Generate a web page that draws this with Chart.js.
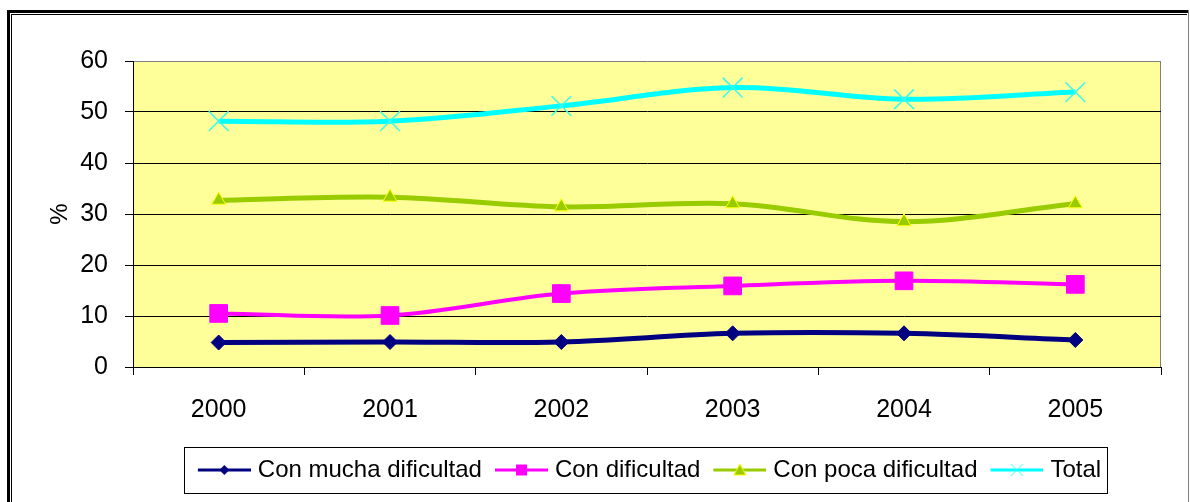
<!DOCTYPE html>
<html>
<head>
<meta charset="utf-8">
<title>Dificultad</title>
<script src="https://cdn.jsdelivr.net/npm/chart.js"></script>
<style>
    body { margin: 0; background: #fff; }
    canvas { display: block; }
</style>
</head>
<body>
<canvas id="lineChart" width="1190" height="502"></canvas>
<script>
    // Data
    const years = ['2000', '2001', '2002', '2003', '2004', '2005'];
    const muchaDificultad = [4.8, 4.9, 4.9, 6.6, 6.6, 5.3];
    const conDificultad = [10.5, 10.1, 14.4, 15.9, 16.9, 16.2];
    const pocaDificultad = [32.7, 33.3, 31.4, 32.0, 28.5, 32.0];
    const total = [48.2, 48.2, 51.2, 54.8, 52.5, 53.9];
    const seriesNames = ['Con mucha dificultad', 'Con dificultad', 'Con poca dificultad', 'Total'];
    const yTicks = [0, 10, 20, 30, 40, 50, 60];

    const FONT = '"Liberation Sans", Arial, sans-serif';

    // Small line + marker sample for the legend
    function makeIcon(color, marker, fill, border) {
        const c = document.createElement('canvas');
        c.width = 63;
        c.height = 24;
        const g = c.getContext('2d');
        g.strokeStyle = color;
        g.lineWidth = 3;
        g.beginPath();
        g.moveTo(10, 12);
        g.lineTo(63, 12);
        g.stroke();
        const x = 36.5, y = 12;
        g.fillStyle = fill;
        g.strokeStyle = border;
        g.lineWidth = 1;
        g.beginPath();
        if (marker === 'diamond') {
            g.moveTo(x, y - 5); g.lineTo(x + 5, y); g.lineTo(x, y + 5); g.lineTo(x - 5, y);
            g.closePath(); g.fill();
        } else if (marker === 'square') {
            g.rect(x - 5.5, y - 5.5, 11, 11); g.fill();
        } else if (marker === 'triangle') {
            g.moveTo(x, y - 6); g.lineTo(x + 6, y + 5); g.lineTo(x - 6, y + 5);
            g.closePath(); g.fill(); g.stroke();
        } else {
            g.moveTo(x - 6, y - 6); g.lineTo(x + 6, y + 6);
            g.moveTo(x + 6, y - 6); g.lineTo(x - 6, y + 6);
            g.stroke();
        }
        return c;
    }

    const legendIcons = [
        makeIcon('#000080', 'diamond', '#000080', '#000080'),
        makeIcon('#FF00FF', 'square', '#FF00FF', '#FF00FF'),
        makeIcon('#99CC00', 'triangle', '#99CC00', '#FFFF00'),
        makeIcon('#00FFFF', 'cross', '#00FFFF', '#33FFEE')
    ];

    // Frame, plot background and legend box
    const framePlugin = {
        id: 'frame',
        beforeDraw(chart) {
            const ctx = chart.ctx;
            const a = chart.chartArea;
            ctx.save();
            ctx.fillStyle = '#fff';
            ctx.fillRect(0, 0, chart.width, chart.height);
            ctx.fillStyle = '#000';
            ctx.fillRect(7, 10, chart.width - 9, 3);
            ctx.fillRect(7, 10, 3, chart.height);
            ctx.fillRect(11, 14, 1, chart.height);
            ctx.fillRect(11, 14, chart.width - 14, 1);
            ctx.fillStyle = '#808080';
            ctx.fillRect(chart.width - 2, 10, 1, chart.height);
            ctx.fillStyle = '#FFFF99';
            ctx.fillRect(a.left, a.top, a.right - a.left, a.bottom - a.top);
            ctx.fillStyle = '#808080';
            ctx.fillRect(a.right - 1, a.top, 1, a.bottom - a.top);
            ctx.restore();
        },
        afterDraw(chart) {
            const boxes = chart.legend.legendHitBoxes;
            if (!boxes || !boxes.length) return;
            const first = boxes[0];
            const last = boxes[boxes.length - 1];
            const cy = first.top + first.height / 2;
            const ctx = chart.ctx;
            ctx.save();
            ctx.strokeStyle = '#000';
            ctx.lineWidth = 1;
            const left = Math.round(first.left - 9) + 0.5;
            const right = Math.round(last.left + last.width + 6) + 0.5;
            ctx.strokeRect(left, Math.round(cy - 23) + 0.5, right - left, 46);
            ctx.restore();
        }
    };

    const ctx = document.getElementById('lineChart').getContext('2d');
    new Chart(ctx, {
        type: 'line',
        data: {
            labels: years,
            datasets: [
                {
                    label: seriesNames[0],
                    data: muchaDificultad,
                    borderColor: '#000080',
                    backgroundColor: '#000080',
                    borderWidth: 5,
                    pointStyle: 'rectRot',
                    pointRadius: 7.5,
                    pointBorderWidth: 1,
                    pointBackgroundColor: '#000080',
                    pointBorderColor: '#000080'
                },
                {
                    label: seriesNames[1],
                    data: conDificultad,
                    borderColor: '#FF00FF',
                    backgroundColor: '#FF00FF',
                    borderWidth: 4,
                    pointStyle: 'rect',
                    pointRadius: 12.5,
                    pointBorderWidth: 1,
                    pointBackgroundColor: '#FF00FF',
                    pointBorderColor: '#FF00FF'
                },
                {
                    label: seriesNames[2],
                    data: pocaDificultad,
                    borderColor: '#99CC00',
                    backgroundColor: '#99CC00',
                    borderWidth: 5,
                    pointStyle: 'triangle',
                    pointRadius: 8,
                    pointBorderWidth: 1,
                    pointBackgroundColor: '#99CC00',
                    pointBorderColor: '#FFFF00'
                },
                {
                    label: seriesNames[3],
                    data: total,
                    borderColor: '#00FFFF',
                    backgroundColor: '#00FFFF',
                    borderWidth: 5,
                    pointStyle: 'crossRot',
                    pointRadius: 14,
                    pointBorderWidth: 1.5,
                    pointBackgroundColor: '#33FFEE',
                    pointBorderColor: '#33FFEE'
                }
            ]
        },
        options: {
            responsive: false,
            animation: false,
            tension: 0.35,
            layout: {
                padding: { top: 61, right: 29, bottom: 10, left: 0 }
            },
            plugins: {
                tooltip: { enabled: false },
                legend: {
                    display: true,
                    position: 'bottom',
                    fullSize: false,
                    labels: {
                        usePointStyle: true,
                        pointStyleWidth: 53,
                        padding: 8,
                        color: '#000',
                        font: { family: FONT, size: 24 },
                        generateLabels(chart) {
                            const items = Chart.defaults.plugins.legend.labels.generateLabels(chart);
                            items.forEach(item => {
                                item.pointStyle = legendIcons[item.datasetIndex];
                                item.rotation = 0;
                            });
                            return items;
                        }
                    }
                }
            },
            scales: {
                x: {
                    type: 'category',
                    offset: true,
                    afterFit(scale) { scale.height = 83; },
                    grid: {
                        offset: true,
                        drawOnChartArea: false,
                        drawTicks: true,
                        tickLength: 8,
                        color: '#000'
                    },
                    border: { color: '#000', width: 1 },
                    ticks: {
                        padding: 20,
                        color: '#000',
                        maxRotation: 0,
                        font: { family: FONT, size: 25 }
                    }
                },
                y: {
                    min: yTicks[0],
                    max: yTicks[yTicks.length - 1],
                    afterFit(scale) { scale.width = 133; },
                    afterBuildTicks(scale) {
                        scale.ticks = yTicks.map(v => ({ value: v }));
                    },
                    grid: {
                        color: c => (c.tick && c.tick.value === 60 ? '#808080' : '#000'),
                        tickColor: '#000',
                        tickLength: 8
                    },
                    border: { color: '#000', width: 1 },
                    ticks: {
                        padding: 17,
                        color: '#000',
                        font: { family: FONT, size: 25 }
                    },
                    title: {
                        display: true,
                        text: '%',
                        color: '#000',
                        padding: { top: 46, bottom: 0 },
                        font: { family: FONT, size: 24 }
                    }
                }
            }
        },
        plugins: [framePlugin]
    });
</script>
</body>
</html>
